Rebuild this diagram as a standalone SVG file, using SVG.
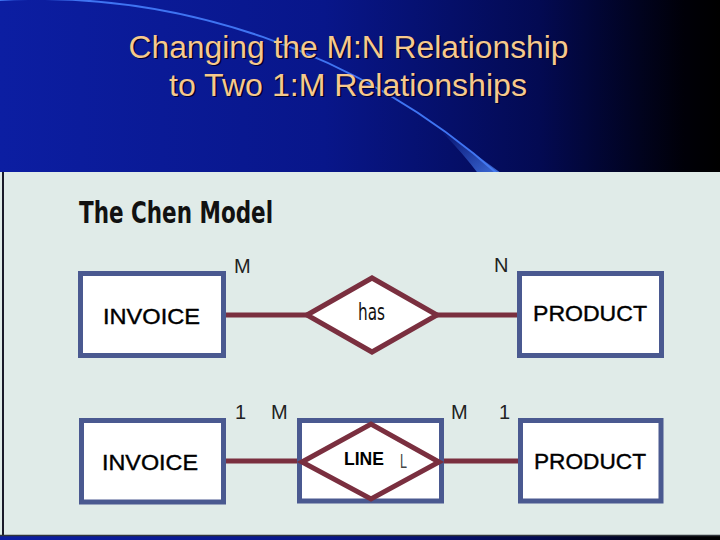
<svg xmlns="http://www.w3.org/2000/svg" width="720" height="540" viewBox="0 0 720 540">
  <defs>
    <linearGradient id="bg" x1="0" y1="0" x2="1" y2="0">
      <stop offset="0" stop-color="#0c1ea2"/>
      <stop offset="0.45" stop-color="#08168a"/>
      <stop offset="0.75" stop-color="#030a52"/>
      <stop offset="0.95" stop-color="#000008"/>
      <stop offset="1" stop-color="#000000"/>
    </linearGradient>
    <linearGradient id="swoosh" x1="0" y1="0" x2="1" y2="1">
      <stop offset="0" stop-color="#3b6ff0" stop-opacity="0"/>
      <stop offset="1" stop-color="#4a80f0" stop-opacity="0.9"/>
    </linearGradient>
    <style>
      .title { font-family: "Liberation Sans", Arial, sans-serif; font-size: 31px; fill: #f6c98c; }
      .shadow { font-family: "Liberation Sans", Arial, sans-serif; font-size: 31px; fill: #000030; }
      .ent { fill: #ffffff; stroke: #4a5990; stroke-width: 5; }
      .rel { fill: #ffffff; stroke: #7a2f3f; stroke-width: 5; stroke-linejoin: miter; }
      .conn { stroke: #7a2f3f; stroke-width: 5; fill: none; }
      .etext { font-family: "Liberation Sans", Arial, sans-serif; font-size: 22px; fill: #000000; stroke: #000000; stroke-width: 0.4; }
      .card { font-family: "Liberation Sans", Arial, sans-serif; font-size: 20px; fill: #222222; }
      .chen { font-family: "Liberation Sans Narrow", "DejaVu Sans Condensed", "Liberation Sans", sans-serif; font-size: 31px; font-weight: bold; fill: #111111; }
      .has { font-family: "Liberation Sans Narrow", "DejaVu Sans Condensed", "Liberation Sans", sans-serif; font-size: 23px; fill: #111111; }
    </style>
  </defs>

  <!-- background -->
  <rect x="0" y="0" width="720" height="540" fill="url(#bg)"/>
  <path d="M -10 0.5 A 697 697 0 0 1 500 176" fill="none" stroke="#3f74f2" stroke-width="2"/>
  <path d="M 440 130 Q 470 150 505 176 L 480 176 Q 462 152 440 130 Z" fill="url(#swoosh)"/>

  <!-- title -->
  <g id="title">
    <text class="shadow" x="130" y="59" textLength="440" lengthAdjust="spacingAndGlyphs">Changing the M:N Relationship</text>
    <text class="title" x="128.5" y="57.5" textLength="440" lengthAdjust="spacingAndGlyphs">Changing the M:N Relationship</text>
    <text class="shadow" x="170.5" y="97" textLength="358" lengthAdjust="spacingAndGlyphs">to Two 1:M Relationships</text>
    <text class="title" x="169" y="95.5" textLength="358" lengthAdjust="spacingAndGlyphs">to Two 1:M Relationships</text>
  </g>

  <!-- panel -->
  <rect x="0" y="172" width="720" height="363" fill="#e0ebe8"/>
  <line x1="3" y1="172" x2="3" y2="536" stroke="#1a1a2a" stroke-width="2"/>
  <line x1="0" y1="535.5" x2="720" y2="535.5" stroke="#30343a" stroke-width="1.5"/>

  <text class="chen" x="79" y="223" textLength="194" lengthAdjust="spacingAndGlyphs">The Chen Model</text>

  <!-- connectors -->
  <g id="connectors">
    <line class="conn" x1="224" y1="315" x2="309" y2="315"/>
    <line class="conn" x1="435" y1="315" x2="519" y2="315"/>
    <line class="conn" x1="224" y1="461" x2="304" y2="461"/>
    <line class="conn" x1="437" y1="461" x2="520" y2="461"/>
  </g>

  <!-- row 1 -->
  <g id="invoice1">
    <rect class="ent" x="80.5" y="273.5" width="143" height="82"/>
    <text class="etext" x="103" y="324" textLength="97" lengthAdjust="spacingAndGlyphs">INVOICE</text>
  </g>
  <g id="has">
    <polygon class="rel" points="307,315 372,278 437,315 372,352"/>
    <text class="has" x="358" y="320" textLength="27" lengthAdjust="spacingAndGlyphs">has</text>
  </g>
  <g id="product1">
    <rect class="ent" x="519.5" y="273.5" width="142" height="82"/>
    <text class="etext" x="533" y="321" textLength="114" lengthAdjust="spacingAndGlyphs">PRODUCT</text>
  </g>
  <text class="card" x="234" y="273">M</text>
  <text class="card" x="494" y="272">N</text>

  <!-- row 2 -->
  <g id="invoice2">
    <rect class="ent" x="81.5" y="420.5" width="142" height="81.5"/>
    <text class="etext" x="102" y="470" textLength="96" lengthAdjust="spacingAndGlyphs">INVOICE</text>
  </g>
  <g id="line">
    <rect class="ent" x="299.5" y="420.5" width="142" height="80.5"/>
    <polygon class="rel" points="302,462 371,424 439,462 371,499"/>
    <text x="344" y="465" font-family="Liberation Sans, Arial, sans-serif" font-size="17.5" font-weight="bold" fill="#000" textLength="40" lengthAdjust="spacingAndGlyphs">LINE</text>
    <text x="400" y="468" font-family="Liberation Sans, Arial, sans-serif" font-size="20" fill="#444" textLength="7" lengthAdjust="spacingAndGlyphs">L</text>
  </g>
  <g id="product2">
    <rect class="ent" x="520.5" y="420.5" width="140.5" height="80.5"/>
    <text class="etext" x="534" y="469" textLength="112" lengthAdjust="spacingAndGlyphs">PRODUCT</text>
  </g>
  <text class="card" x="235" y="419">1</text>
  <text class="card" x="271" y="419">M</text>
  <text class="card" x="451" y="419">M</text>
  <text class="card" x="499" y="419">1</text>
</svg>
